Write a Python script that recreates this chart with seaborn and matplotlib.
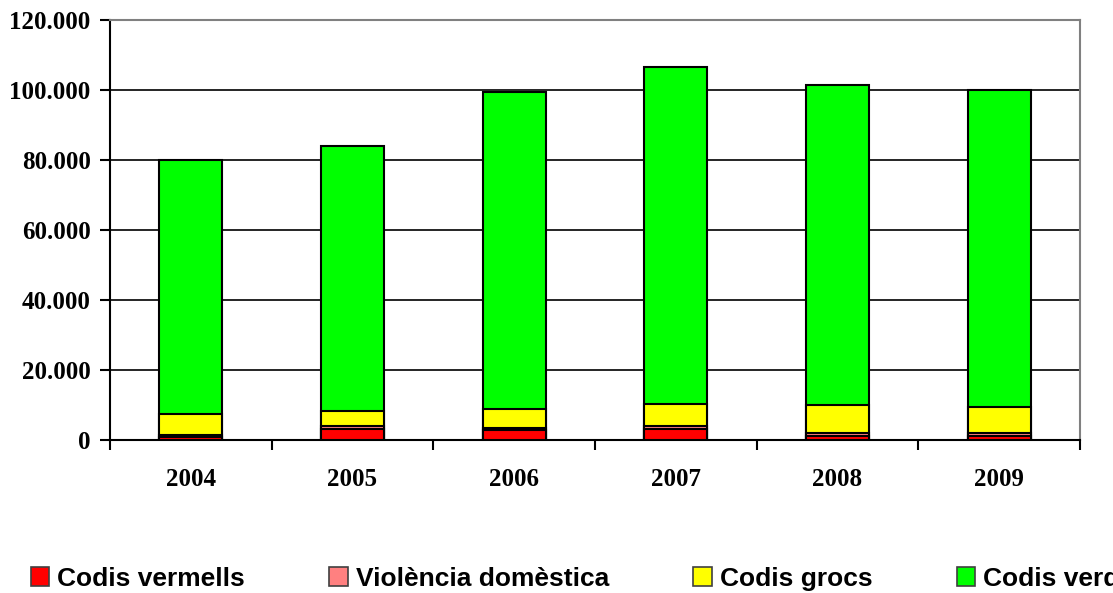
import pandas as pd
import seaborn as sns
import matplotlib.pyplot as plt
from matplotlib.patches import Patch
from matplotlib.ticker import FuncFormatter, FixedLocator

years = ['2004', '2005', '2006', '2007', '2008', '2009']
vermells = [1000, 3200, 2850, 3200, 1200, 1200]
violencia = [500, 800, 550, 800, 800, 800]
grocs = [6000, 4400, 5500, 6400, 8000, 7500]
verds = [72500, 75600, 90600, 96300, 91600, 90500]

labels = ['Codis vermells', 'Violència domèstica', 'Codis grocs', 'Codis verds']
colors = ['#FF0000', '#FF8080', '#FFFF00', '#00FF00']

df = pd.DataFrame({'year': years, 'vermells': vermells, 'violencia': violencia,
                   'grocs': grocs, 'verds': verds})
# cumulative tops for stacking
df['c1'] = df['vermells']
df['c2'] = df['c1'] + df['violencia']
df['c3'] = df['c2'] + df['grocs']
df['c4'] = df['c3'] + df['verds']

sns.set_style('white')
plt.rcParams['font.family'] = ['Liberation Serif']
plt.rcParams['font.weight'] = 'bold'
plt.rcParams['text.color'] = 'black'
plt.rcParams['xtick.color'] = 'black'
plt.rcParams['ytick.color'] = 'black'
plt.rcParams['xtick.labelsize'] = 18
plt.rcParams['ytick.labelsize'] = 18

fig = plt.figure(figsize=(11.13, 5.93), dpi=100)
ax = fig.add_axes([0.0988, 0.258, 0.8716, 0.708])

# draw from tallest down so every layer shows
for col, c in zip(['c4', 'c3', 'c2', 'c1'], colors[::-1]):
    sns.barplot(data=df, x='year', y=col, color=c, width=0.39, edgecolor='black',
                linewidth=1.5, saturation=1, ax=ax, zorder=3)

ax.set_xlim(-0.5, 5.5)
ax.set_ylim(0, 120000)
ax.set_yticks(range(0, 120001, 20000))
ax.yaxis.set_major_formatter(FuncFormatter(lambda v, p: f'{int(v):,}'.replace(',', '.')))
for y in range(20000, 100001, 20000):
    ax.axhline(y, color='black', linewidth=1.2, zorder=1)

ax.set_xlabel('')
ax.set_ylabel('')
ax.tick_params(axis='x', which='major', length=0, pad=20)
ax.xaxis.set_minor_locator(FixedLocator([i - 0.5 for i in range(7)]))
ax.tick_params(axis='x', which='minor', length=7, width=1.5, color='black', direction='out', bottom=True)
ax.tick_params(axis='y', length=7, width=1.5, color='black', direction='out', left=True, pad=7)

for s in ['left', 'bottom']:
    ax.spines[s].set_color('black')
    ax.spines[s].set_linewidth(1.5)
for s in ['top', 'right']:
    ax.spines[s].set_color('#808080')
    ax.spines[s].set_linewidth(1.5)

handles = [Patch(facecolor=c, edgecolor='#404040', linewidth=1.2) for c in colors]
fig.legend(handles, labels, loc='center left', bbox_to_anchor=(0.018, 0.024), ncol=4,
           frameon=False, prop={'family': 'Liberation Sans', 'weight': 'bold', 'size': 19},
           handlelength=0.7, handleheight=0.7, handletextpad=0.3, columnspacing=3.2,
           borderaxespad=0, labelcolor='black')

plt.savefig('out.png', dpi=100)
